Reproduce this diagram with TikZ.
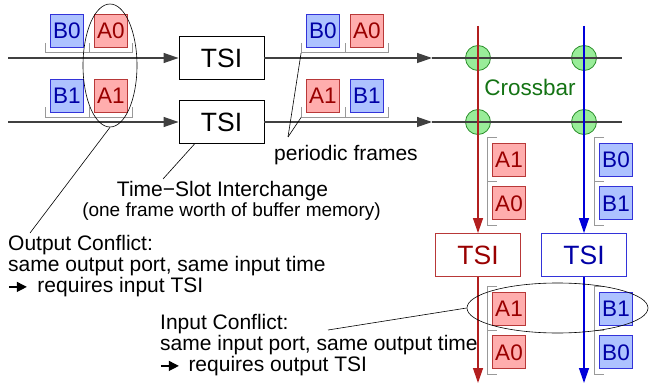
\documentclass[tikz,border=0pt]{standalone}
\usepackage{fontspec}
\setmainfont{Liberation Sans}
\usetikzlibrary{arrows.meta,shapes.geometric,positioning}

\definecolor{redline}{rgb}{0.70,0.12,0.12}
\definecolor{redfill}{rgb}{1.00,0.68,0.68}
\definecolor{redborder}{rgb}{0.72,0.22,0.22}
\definecolor{redtext}{rgb}{0.60,0.00,0.00}
\definecolor{blueline}{rgb}{0.00,0.00,0.85}
\definecolor{bluefill}{rgb}{0.68,0.76,1.00}
\definecolor{blueborder}{rgb}{0.20,0.20,0.85}
\definecolor{bluetext}{rgb}{0.00,0.00,0.65}
\definecolor{greenfill}{rgb}{0.60,0.93,0.60}
\definecolor{greenborder}{rgb}{0.15,0.55,0.15}
\definecolor{greentext}{rgb}{0.08,0.45,0.08}
\definecolor{brackgray}{rgb}{0.60,0.60,0.60}

% frame bracket under two slots in a row
\newcommand{\hbracket}[2]{%
  \draw[bracket] ([xshift=-5pt,yshift=5pt]#1.south west) -- ([xshift=-5pt,yshift=-5pt]#1.south west)
    -- ([xshift=5pt,yshift=-5pt]#2.south east) -- ([xshift=5pt,yshift=5pt]#2.south east);
  \draw[bracket] ([xshift=5pt,yshift=-5pt]#1.south east) -- ([xshift=5pt,yshift=5pt]#1.south east);}
% frame bracket left of two slots in a column
\newcommand{\vbracket}[2]{%
  \draw[bracket] ([xshift=5pt,yshift=5pt]#1.north west) -- ([xshift=-5pt,yshift=5pt]#1.north west)
    -- ([xshift=-5pt,yshift=-5pt]#2.south west) -- ([xshift=5pt,yshift=-5pt]#2.south west);
  \draw[bracket] ([xshift=-5pt,yshift=-5pt]#1.south west) -- ([xshift=5pt,yshift=-5pt]#1.south west);}
\newcommand{\thenarrow}{\tikz[baseline=-6pt]\draw[line width=1.3pt,-{Triangle[length=10pt,width=10pt]}] (0pt,0pt) -- (18pt,0pt);}

\tikzset{
  wire/.style={line width=1.3pt, color=black!75},
  flow/.style={wire, -{Triangle[length=15pt,width=10pt]}},
  leader/.style={line width=0.6pt, black},
  bracket/.style={line width=0.8pt, brackgray},
  slotA/.style={draw=redborder, fill=redfill, text=redtext, line width=0.8pt, minimum size=33pt, inner sep=0pt, font=\fontsize{22.5}{22}\selectfont},
  slotB/.style={draw=blueborder, fill=bluefill, text=bluetext, line width=0.8pt, minimum size=33pt, inner sep=0pt, font=\fontsize{22.5}{22}\selectfont},
  tsibox/.style={draw, fill=white, line width=0.9pt, minimum width=85pt, minimum height=43pt, inner sep=0pt, font=\fontsize{26.5}{26}\selectfont},
  xpoint/.style={circle, draw=greenborder, fill=greenfill, line width=0.8pt, minimum size=25pt, inner sep=0pt},
  lbl/.style={inner sep=0pt, font=\fontsize{21}{21}\selectfont},
  note/.style={inner sep=0pt, font=\fontsize{19}{20}\selectfont}
}

\begin{document}
\begin{tikzpicture}[x=1pt, y=-1pt, node distance=10pt]
  \useasboundingbox (0,0) rectangle (654,385);

  % input frames
  \node[slotB] (inB0) at (67,31) {B0};
  \node[slotA] (inA0) [right=of inB0] {A0};
  \node[slotB] (inB1) at (67,95.5) {B1};
  \node[slotA] (inA1) [right=of inB1] {A1};
  \hbracket{inB0}{inA0}
  \hbracket{inB1}{inA1}

  % frames after the input TSI
  \node[slotB] (mB0) at (323,31) {B0};
  \node[slotA] (mA0) [right=of mB0] {A0};
  \node[slotA] (mA1) at (323,95.5) {A1};
  \node[slotB] (mB1) [right=of mA1] {B1};
  \hbracket{mB0}{mA0}
  \hbracket{mA1}{mB1}

  % crossbar
  \node[xpoint] (x11) at (478,58) {};
  \node[xpoint] (x12) at (584,58) {};
  \node[xpoint] (x21) at (478,122) {};
  \node[xpoint] (x22) at (584,122) {};
  \node[lbl, text=greentext, font=\fontsize{22.5}{22}\selectfont] (xbar) at (530,87) {Crossbar};

  \node[tsibox] (tsi1) at (221.5,58) {TSI};
  \node[tsibox] (tsi2) at (221.5,122) {TSI};
  \node[tsibox, draw=redborder, text=redtext] (tsiR) at (478,255) {TSI};
  \node[tsibox, draw=blueborder, text=bluetext] (tsiB) at (584,255) {TSI};

  \coordinate (in1) at (8,58);  \coordinate (mid1) at (432,58);  \coordinate (out1) at (622,58);
  \coordinate (in2) at (8,122); \coordinate (mid2) at (432,122); \coordinate (out2) at (622,122);
  \coordinate (rtop) at (478,26); \coordinate (rbot) at (478,383);
  \coordinate (btop) at (584,26); \coordinate (bbot) at (584,383);

  \draw[flow] (in1) -- (tsi1);
  \draw[flow] (tsi1) -- (mid1);
  \draw[wire] (mid1) -- (out1);
  \draw[flow] (in2) -- (tsi2);
  \draw[flow] (tsi2) -- (mid2);
  \draw[wire] (mid2) -- (out2);
  \draw[flow, color=redline] (rtop) -- (tsiR);
  \draw[flow, color=redline] (tsiR) -- (rbot);
  \draw[flow, color=blueline] (btop) -- (tsiB);
  \draw[flow, color=blueline] (tsiB) -- (bbot);

  % output frames
  \node[slotA] (oA1) at (509,159.5) {A1};
  \node[slotA] (oA0) [below=of oA1] {A0};
  \node[slotB] (oB0) at (616,159.5) {B0};
  \node[slotB] (oB1) [below=of oB0] {B1};
  \vbracket{oA1}{oA0}
  \vbracket{oB0}{oB1}
  \node[slotA] (rA1) at (509,308.5) {A1};
  \node[slotA] (rA0) [below=of rA1] {A0};
  \node[slotB] (rB1) at (616,308.5) {B1};
  \node[slotB] (rB0) [below=of rB1] {B0};
  \vbracket{rA1}{rA0}
  \vbracket{rB1}{rB0}

  % conflicts and notes
  \node[draw, ellipse, leader, minimum width=54pt, minimum height=123pt] (oconf) at (110,65.5) {};
  \node[draw, ellipse, leader, minimum width=181pt, minimum height=50pt] (iconf) at (557.5,308) {};

  \node[lbl] (pf) at (346,155) {periodic frames};
  \node[lbl, anchor=base] (tsiname) at (222.5,197) {Time−Slot Interchange};
  \node[note, anchor=base] (tsimem) at (231.5,217) {(one frame worth of buffer memory)};
  \node[lbl, align=left, anchor=north west] (outc) at (8,235.5)
    {Output Conflict:\\same output port, same input time\\\thenarrow\hspace{10pt}requires input TSI};
  \node[lbl, align=left, anchor=north west] (inc) at (160,314.5)
    {Input Conflict:\\same input port, same output time\\\thenarrow\hspace{9pt}requires output TSI};

  \coordinate (pfpt) at (288,137);
  \coordinate (tsiend) at (163,179);
  \coordinate (outcend) at (30,233);
  \coordinate (incend) at (328,330);
  \draw[leader] (pfpt) -- ([xshift=-5pt,yshift=-5pt]mB0.south west);
  \draw[leader] (pfpt) -- ([xshift=-5pt,yshift=-5pt]mA1.south west);
  \draw[leader] ([xshift=16pt]tsi2.south west) -- (tsiend);
  \draw[leader] (oconf.south) -- (outcend);
  \draw[leader] (iconf.west) -- (incend);
\end{tikzpicture}
\end{document}
